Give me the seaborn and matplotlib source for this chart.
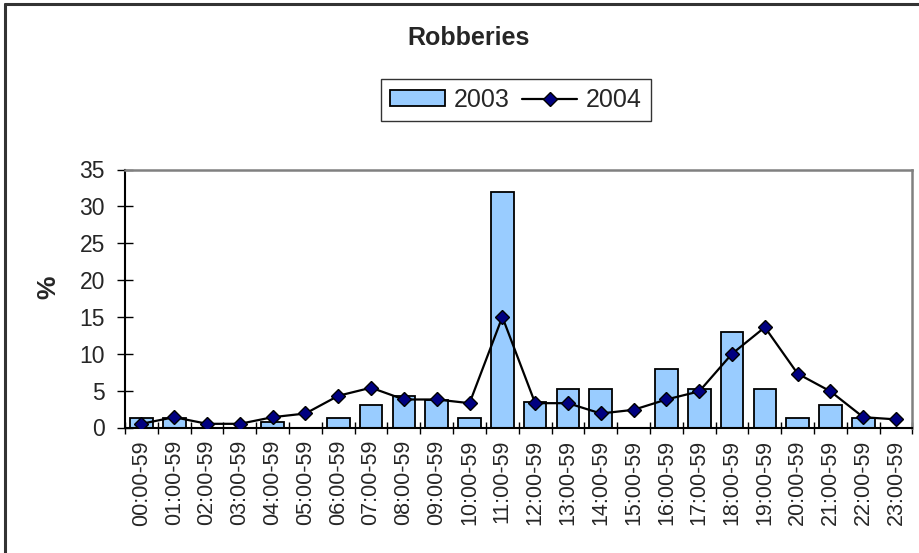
import numpy as np
import pandas as pd
import matplotlib
matplotlib.use("Agg")
import matplotlib.pyplot as plt
import seaborn as sns
from matplotlib.lines import Line2D
from matplotlib.patches import Patch
from matplotlib.ticker import FixedLocator, NullFormatter

# Hourly share of robberies (%)
hours = ["00:00-59", "01:00-59", "02:00-59", "03:00-59", "04:00-59", "05:00-59",
         "06:00-59", "07:00-59", "08:00-59", "09:00-59", "10:00-59", "11:00-59",
         "12:00-59", "13:00-59", "14:00-59", "15:00-59", "16:00-59", "17:00-59",
         "18:00-59", "19:00-59", "20:00-59", "21:00-59", "22:00-59", "23:00-59"]
pct_2003 = [1.3, 1.3, 0.0, 0.0, 0.8, 0.0, 1.3, 3.0, 4.3, 3.7, 1.3, 32.0,
            3.5, 5.2, 5.2, 0.0, 7.9, 5.2, 13.0, 5.2, 1.3, 3.0, 1.3, 0.0]
pct_2004 = [0.5, 1.4, 0.5, 0.5, 1.4, 1.9, 4.3, 5.4, 3.8, 3.8, 3.3, 15.0,
            3.3, 3.3, 1.9, 2.4, 3.8, 4.9, 10.0, 13.6, 7.3, 4.9, 1.4, 1.1]
y_ticks = [0, 5, 10, 15, 20, 25, 30, 35]

df = pd.DataFrame({"hour": hours, "y2003": pct_2003, "y2004": pct_2004})

sns.set_style("white")
plt.rcParams["font.family"] = ["Liberation Sans", "DejaVu Sans"]

W, H = 920, 553
fig = plt.figure(figsize=(W / 100, H / 100), dpi=100)
ax_l, ax_r, ax_t, ax_b = 125, 912.5, 169.5, 427.5
ax = fig.add_axes([ax_l / W, 1 - ax_b / H, (ax_r - ax_l) / W, (ax_b - ax_t) / H])

bar_fill = "#99CCFF"
sns.barplot(data=df, x="hour", y="y2003", order=hours, color=bar_fill,
            saturation=1, width=0.69, edgecolor="black", linewidth=1.3, ax=ax)
sns.pointplot(data=df, x="hour", y="y2004", order=hours, color="black",
              markers="D", errorbar=None, linewidth=1.6, markersize=7.5, ax=ax)
pl = ax.lines[-1]
pl.set_markerfacecolor("#000080")
pl.set_markeredgecolor("black")
pl.set_markeredgewidth(1.0)
pl.set_zorder(5)

ax.set_xlim(-0.5, len(hours) - 0.5)
ax.set_ylim(0, 35)
ax.set_yticks(y_ticks)
ax.set_yticklabels([str(t) for t in y_ticks])

# category boundaries carry the tick marks; labels sit at category centres
ax.xaxis.set_major_locator(FixedLocator(np.arange(-0.5, len(hours), 1.0)))
ax.xaxis.set_major_formatter(NullFormatter())
ax.xaxis.set_minor_locator(FixedLocator(np.arange(len(hours))))
ax.set_xticklabels(hours, minor=True, rotation=90)
ax.tick_params(axis="x", which="major", direction="inout", length=8.5,
               width=1.0, color="black", bottom=True)
ax.tick_params(axis="x", which="minor", length=0, pad=9, labelsize=15.5,
               bottom=True)
ax.tick_params(axis="y", which="major", direction="inout", length=11,
               width=1.0, color="black", pad=9, labelsize=16.5, left=True)
ax.set_xlabel("")
ax.set_ylabel("")

for side in ["left", "bottom"]:
    ax.spines[side].set_color("black")
    ax.spines[side].set_linewidth(1.5)
for side in ["top", "right"]:
    ax.spines[side].set_visible(True)
    ax.spines[side].set_color("#808080")
    ax.spines[side].set_linewidth(1.8)

fig.text(48 / W, 1 - 287 / H, "%", rotation=90, fontsize=19, fontweight="bold",
         ha="center", va="center")
fig.text(469 / W, 1 - 38 / H, "Robberies", fontsize=18, fontweight="bold",
         ha="center", va="center")

handles = [Patch(facecolor=bar_fill, edgecolor="black", linewidth=1.3),
           Line2D([], [], color="black", linewidth=1.6, marker="D", markersize=7,
                  markerfacecolor="#000080", markeredgecolor="black")]
leg = fig.legend(handles, ["2003", "2004"], ncol=2, loc="center",
                 bbox_to_anchor=(516 / W, 1 - 100 / H), fontsize=18,
                 frameon=True, fancybox=False, edgecolor="black",
                 handlelength=2.2, handleheight=0.6, handletextpad=0.35,
                 columnspacing=0.5, borderpad=0.35, borderaxespad=0)
leg.get_frame().set_linewidth(1.0)

# chart area border
bx, by = 4.5 / W, 1 - 3.5 / H
fig.add_artist(Line2D([bx, bx], [0, by], color="#333333", linewidth=2.2,
                      transform=fig.transFigure))
fig.add_artist(Line2D([bx, 1], [by, by], color="#333333", linewidth=2.2,
                      transform=fig.transFigure))

fig.savefig("out.png", dpi=100)
